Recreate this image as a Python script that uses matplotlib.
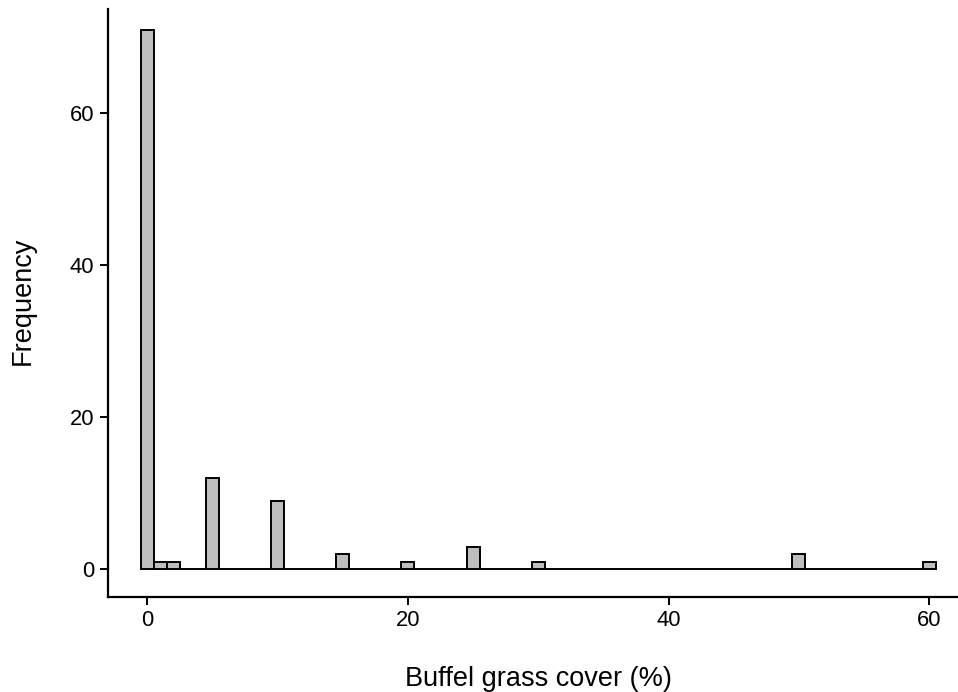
import numpy as np
import matplotlib
matplotlib.use("Agg")
import matplotlib.pyplot as plt

# buffel grass cover (%) and how many plots fall at each value
cover = [0, 1, 2, 5, 10, 15, 20, 25, 30, 50, 60]
counts = [71, 1, 1, 12, 9, 2, 1, 3, 1, 2, 1]

plt.rcParams["font.family"] = ["Liberation Sans", "DejaVu Sans"]

fig = plt.figure(figsize=(9.58, 6.92), dpi=100)
ax = fig.add_axes([0.1124, 0.1377, 0.8876, 0.849])

bins = np.arange(-0.5, 61.5, 1.0)
ax.hist(cover, bins=bins, weights=counts, color="#bebebe",
        edgecolor="black", linewidth=1.4)

ax.set_xlim(-3.03, 62.2)
ax.set_ylim(-3.58, 73.7)
ax.set_xticks([0, 20, 40, 60])
ax.set_yticks([0, 20, 40, 60])

for side in ["top", "right"]:
    ax.spines[side].set_visible(False)
for side in ["left", "bottom"]:
    ax.spines[side].set_linewidth(1.6)
ax.tick_params(direction="out", length=5.5, width=1.4, labelsize=15.8,
               colors="black", pad=4)

ax.set_xlabel("Buffel grass cover (%)", fontsize=19.5, labelpad=25)
ax.xaxis.label.set_x(0.506)
ax.set_ylabel("Frequency", fontsize=19.5, labelpad=25)
ax.yaxis.label.set_y(0.503)

fig.savefig("out.png", dpi=100)
